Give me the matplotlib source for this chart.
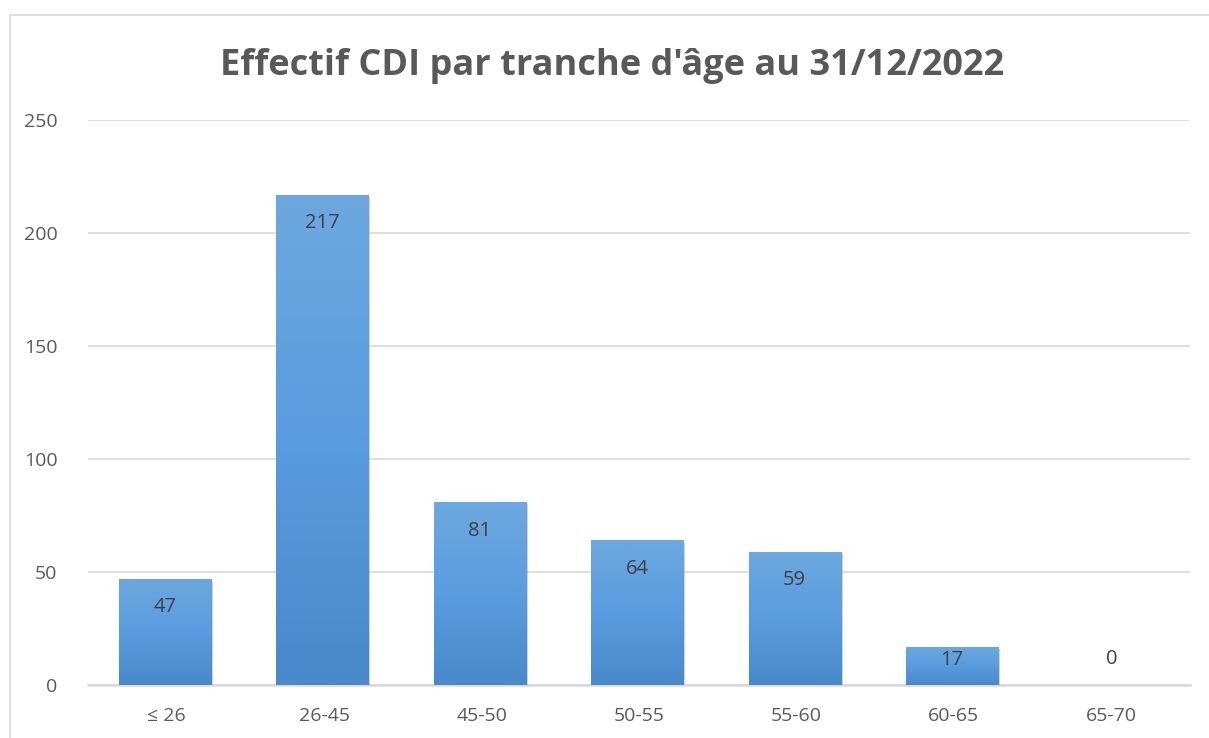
import matplotlib
matplotlib.use("Agg")
import matplotlib.pyplot as plt
import matplotlib.patheffects as pe
from matplotlib.colors import LinearSegmentedColormap
from matplotlib.patches import Rectangle
import numpy as np

categories = ['≤ 26', '26-45', '45-50', '50-55', '55-60', '60-65', '65-70']
effectifs = [47, 217, 81, 64, 59, 17, 0]
yticks = [0, 50, 100, 150, 200, 250]

plt.rcParams['font.family'] = ['Open Sans', 'DejaVu Sans']
gris_texte = '#595959'
gris_grille = '#D9D9D9'

fig = plt.figure(figsize=(12.09, 7.38), dpi=100)
ax = fig.add_axes([0.0728, 0.0718, 0.9115, 0.7652])

# cadre du graphique
fig.patches.append(Rectangle((10 / 1209, -0.01), 1.0, 1 - 15 / 738 + 0.01,
                             transform=fig.transFigure, fill=False,
                             edgecolor=gris_grille, linewidth=1.2))

x = np.arange(len(categories))
largeur = 0.585
bars = ax.bar(x - 0.012, effectifs, width=largeur, color='#5B9BD5', zorder=3)

# dégradé vertical dans chaque barre
degrade = LinearSegmentedColormap.from_list('bleu', ['#4889CA', '#599CDF', '#6DA8DF'])
grad = np.linspace(0, 1, 256).reshape(-1, 1)
for b in bars:
    h = b.get_height()
    if h <= 0:
        continue
    b.set_path_effects([pe.SimplePatchShadow(offset=(1.5, -1.5), shadow_rgbFace='#9a9a9a', alpha=0.45),
                        pe.Normal()])
    x0 = b.get_x()
    im = ax.imshow(grad, cmap=degrade, origin='lower', aspect='auto',
                   extent=(x0, x0 + b.get_width(), 0, h), zorder=4)
    im.set_clip_path(b)

# étiquettes de données (intérieur haut, comme Excel)
for xi, v in zip(x, effectifs):
    if v > 30:
        decal = -20.5
    elif v > 0:
        decal = -10
    else:
        decal = 18.5
    ax.annotate(str(v), (xi - 0.012 if v > 0 else xi, v), xytext=(0, decal),
                textcoords='offset points', ha='center', va='center',
                fontsize=14.5, color='#404040', zorder=5)

ax.set_xlim(-0.5, len(categories) - 0.5)
ax.set_ylim(0, 250)
ax.set_yticks(yticks)
ax.set_xticks(x)
ax.set_xticklabels(categories)
ax.tick_params(axis='both', length=0, labelsize=14, labelcolor=gris_texte)
ax.tick_params(axis='x', pad=16)
ax.tick_params(axis='y', pad=22)
ax.grid(axis='y', color=gris_grille, linewidth=1.2, zorder=0)
for s in ['top', 'right', 'left']:
    ax.spines[s].set_visible(False)
ax.spines['bottom'].set_color(gris_grille)
ax.spines['bottom'].set_linewidth(1.8)

fig.text(0.506, 0.91, "Effectif CDI par tranche d'âge au 31/12/2022",
         ha='center', va='center', fontsize=26, fontweight='bold', color=gris_texte)

fig.savefig('out.png', dpi=100)
